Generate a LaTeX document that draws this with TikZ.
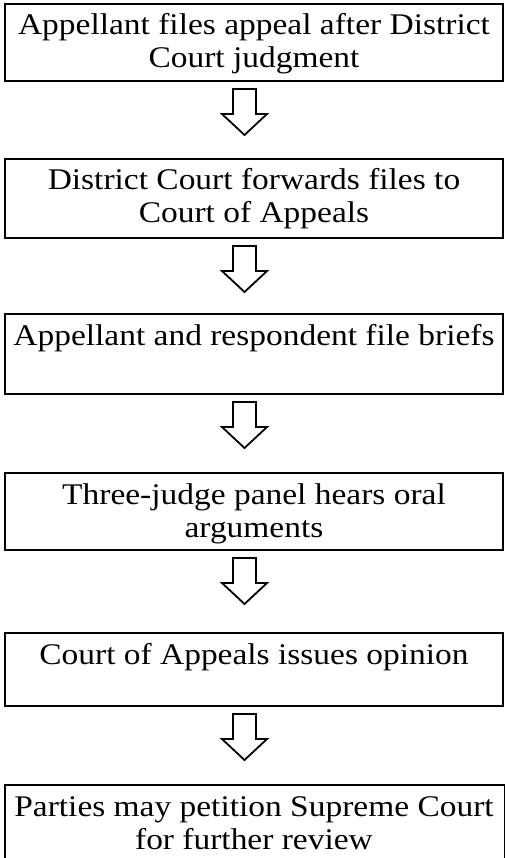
\documentclass[tikz,border=0pt]{standalone}
\usepackage{fontspec}
\setmainfont[FakeStretch=1.115]{Liberation Serif}
\usetikzlibrary{calc}
\tikzset{
  stepbox/.style={draw=black, line width=2pt, rectangle, minimum width=498pt, inner sep=0pt, anchor=north},
  steptext/.style={align=center, anchor=base, inner sep=0pt, font=\fontsize{30pt}{33pt}\selectfont},
  arrowline/.style={draw=black, line width=1.8pt, fill=white, line join=miter}
}
\newcommand{\blockarrow}[1]{%
  \draw[arrowline, shift={(#1)}] (-11.5pt,0pt) -- (-11.5pt,-25pt) -- (-22.5pt,-25pt)
     -- (0pt,-46pt) -- (22.5pt,-25pt) -- (11.5pt,-25pt) -- (11.5pt,0pt) -- cycle;}
\begin{document}
\begin{tikzpicture}
\useasboundingbox (0pt,0pt) rectangle (505pt,-858pt);
\fill[white] (0pt,0pt) rectangle (505pt,-858pt);
\node[stepbox, minimum height=77pt] (b1) at (254pt,-3pt) {};
\node[stepbox, minimum height=79pt] (b2) at (254pt,-158pt) {};
\node[stepbox, minimum height=80pt] (b3) at (254pt,-313pt) {};
\node[stepbox, minimum height=77pt] (b4) at (254pt,-472pt) {};
\node[stepbox, minimum height=73pt] (b5) at (254pt,-632pt) {};
\node[stepbox, minimum height=79pt, minimum width=500pt, xshift=1pt] (b6) at (254pt,-784pt) {};
\node[steptext] (t1) at ($(b1.north)+(0,-65pt)$) {Appellant files appeal after District\\Court judgment};
\node[steptext] (t2) at ($(b2.north)+(0,-65pt)$) {District Court forwards files to\\Court of Appeals};
\node[steptext] (t3) at ($(b3.north)+(0,-32pt)$) {Appellant and respondent file briefs};
\node[steptext] (t4) at ($(b4.north)+(0,-65pt)$) {Three-judge panel hears oral\\arguments};
\node[steptext] (t5) at ($(b5.north)+(0,-32pt)$) {Court of Appeals issues opinion};
\node[steptext] (t6) at ($(b6.north)+(-1pt,-65pt)$) {Parties may petition Supreme Court\\for further review};
\coordinate (a1) at ($(b1.south)+(-9.5pt,-7pt)$);
\coordinate (a2) at ($(b2.south)+(-9.5pt,-7pt)$);
\coordinate (a3) at ($(b3.south)+(-9.5pt,-7pt)$);
\coordinate (a4) at ($(b4.south)+(-9.5pt,-7pt)$);
\coordinate (a5) at ($(b5.south)+(-9.5pt,-7pt)$);
\blockarrow{a1}
\blockarrow{a2}
\blockarrow{a3}
\blockarrow{a4}
\blockarrow{a5}
\end{tikzpicture}
\end{document}
